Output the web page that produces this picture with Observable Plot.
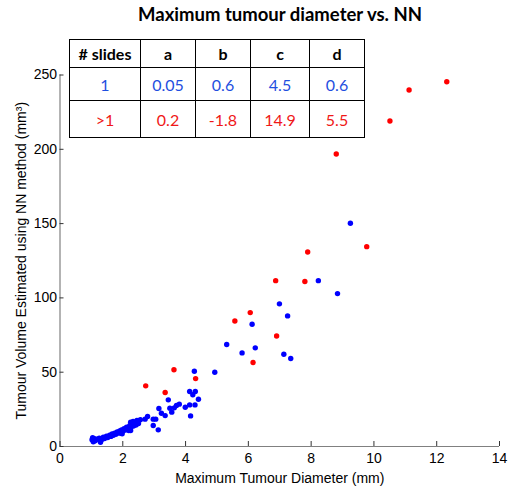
<!DOCTYPE html>
<html><head><meta charset="utf-8">
<script src="https://cdn.jsdelivr.net/npm/d3@7"></script>
<script src="https://cdn.jsdelivr.net/npm/@observablehq/plot@0.6"></script>
<style>
body{margin:0;background:#fff;}
#wrap{position:relative;width:513px;height:487px;overflow:hidden;}
#title{position:absolute;left:80px;top:3px;width:400px;text-align:center;font:bold 18.5px Lato,"Open Sans",sans-serif;color:#000;}
#tbl{position:absolute;left:69px;top:39px;border-collapse:collapse;font-family:Lato,"Open Sans",sans-serif;font-size:16px;background:#fff;}
#tbl td{border:1.5px solid #000;text-align:center;padding:0;}
</style></head>
<body><div id="wrap"><div id="title"></div><table id="tbl"></table></div>
<script>
// ---- data ----
const titleText = "Maximum tumour diameter vs. NN";
const xLabel = "Maximum Tumour Diameter (mm)";
const yLabel = "Tumour Volume Estimated using NN method (mm³)";
const xTicks = [0, 2, 4, 6, 8, 10, 12, 14];
const yTicks = [0, 50, 100, 150, 200, 250];

// single slide (blue): [diameter, volume]
const oneSlide = [
  [1.02,4.5],[1.04,6.0],[1.06,3.2],[1.10,5.2],[1.12,3.8],[1.18,4.9],[1.25,5.6],[1.29,2.9],
  [1.32,4.4],[1.38,6.3],[1.42,5.4],[1.48,7.0],[1.52,6.1],[1.58,7.6],[1.62,6.8],[1.66,8.4],
  [1.70,7.5],[1.74,9.0],[1.78,8.2],[1.82,9.8],[1.86,9.1],[1.90,10.5],[1.94,8.9],[1.96,11.2],
  [1.98,8.5],[2.00,10.3],[2.04,12.0],[2.08,11.1],[2.12,13.0],[2.16,12.2],[2.19,10.8],[2.22,14.0],
  [2.26,13.1],[2.30,14.8],[2.34,13.8],[2.38,15.3],[2.42,14.5],[2.46,16.2],[2.50,15.4],
  [2.25,16.3],[2.25,10.8],[2.33,16.8],[2.45,17.5],[2.56,18.0],[2.71,18.4],[2.79,20.2],
  [2.97,18.4],[2.97,14.1],[3.05,18.4],[3.13,11.2],[3.15,25.6],[3.23,22.4],[3.35,20.8],
  [3.45,31.4],[3.50,25.8],[3.56,23.1],[3.64,26.0],[3.71,27.6],[3.80,28.5],[3.99,26.4],
  [4.13,28.0],[4.30,28.0],[4.16,20.6],[4.41,31.8],[4.23,34.8],[4.13,37.0],[4.31,37.0],
  [4.28,50.6],[4.93,50.0],[5.31,68.6],[5.80,63.0],[6.12,82.3],[6.22,66.4],[6.99,96.0],
  [7.13,62.1],[7.25,87.9],[7.35,59.2],[8.23,111.6],[8.84,102.9],[9.25,150.2]
];
// more than one slide (red)
const multiSlide = [
  [2.73,40.8],[3.35,36.3],[3.63,51.6],[4.32,45.7],[5.57,84.5],[6.06,90.1],[6.15,56.5],
  [6.87,111.6],[6.90,74.4],[7.80,111.0],[7.89,130.9],[8.80,196.8],[9.77,134.5],
  [10.51,219.0],[11.12,239.9],[12.32,245.5]
];

// table
const tableHeader = ["# slides", "a", "b", "c", "d"];
const tableRowOne = ["1", "0.05", "0.6", "4.5", "0.6"];
const tableRowMulti = [">1", "0.2", "-1.8", "14.9", "5.5"];
const colWidths = [70, 54, 54, 58, 54];
const rowHeights = [28, 33, 37];

// ---- chart ----
const chart = Plot.plot({
  width: 513, height: 487,
  marginLeft: 59.5, marginRight: 14, marginTop: 74.5, marginBottom: 41,
  x: {domain: [0, 14]},
  y: {domain: [0, 250]},
  style: {fontFamily: "'Liberation Sans', Arial, sans-serif", fontSize: "14px", color: "#000", background: "transparent"},
  marks: [
    Plot.ruleY([0], {stroke: "#808080", strokeWidth: 1.2}),
    Plot.ruleX([0], {stroke: "#808080", strokeWidth: 1.2}),
    Plot.axisX({ticks: xTicks, tickSize: -5, tickPadding: 12, stroke: "#333", label: xLabel, labelAnchor: "center", labelArrow: "none", labelOffset: 36, letterSpacing: "-0.4px"}),
    Plot.axisY({ticks: yTicks, tickSize: -4, tickPadding: 7, stroke: "#333", label: yLabel, labelAnchor: "center", labelArrow: "none", labelOffset: 44, letterSpacing: "-0.4px"}),
    Plot.dot(oneSlide, {x: d => d[0], y: d => d[1], r: 2.7, fill: "#0000ff", stroke: "none"}),
    Plot.dot(multiSlide, {x: d => d[0], y: d => d[1], r: 2.7, fill: "#ff0000", stroke: "none"})
  ]
});
document.getElementById("wrap").prepend(chart);
document.getElementById("title").textContent = titleText;

const tbl = document.getElementById("tbl");
[[tableHeader, "#000", "bold"], [tableRowOne, "#1f4fe0", "normal"], [tableRowMulti, "#f01818", "normal"]].forEach(([row, color, weight], ri) => {
  const tr = document.createElement("tr");
  tr.style.height = rowHeights[ri] + "px";
  row.forEach((v, ci) => {
    const td = document.createElement("td");
    td.textContent = v;
    td.style.width = colWidths[ci] + "px";
    td.style.color = color;
    td.style.fontWeight = weight;
    tr.appendChild(td);
  });
  tbl.appendChild(tr);
});
</script></body></html>
